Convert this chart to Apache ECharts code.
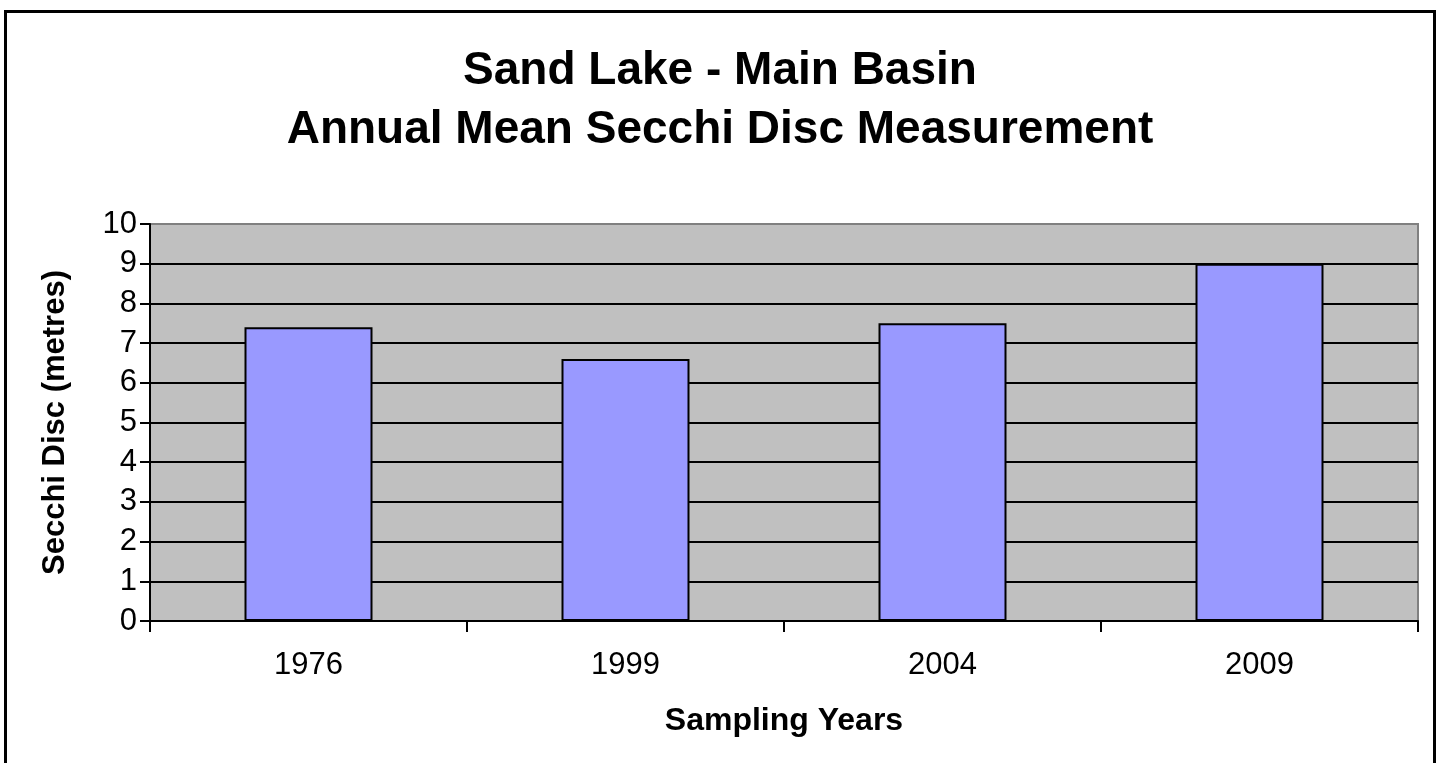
<!DOCTYPE html>
<html>
<head>
<meta charset="utf-8">
<title>Sand Lake - Main Basin</title>
<script src="https://cdn.jsdelivr.net/npm/echarts@6/dist/echarts.min.js"></script>
<style>
    html, body { margin: 0; padding: 0; background: #fff; overflow: hidden; }
    #chart { position: absolute; left: 0; top: 0; width: 1440px; height: 763px; }
    .frame { position: absolute; left: 4px; top: 10px; width: 1432px; height: 800px; border: 3px solid #000; box-sizing: border-box; pointer-events: none; }
</style>
</head>
<body>
<div id="chart"></div>
<div class="frame"></div>
<script>
    // sampling years and annual mean secchi depth (m)
    var years = ['1976', '1999', '2004', '2009'];
    var secchi = [7.4, 6.6, 7.5, 9.0];
    var yTicks = [0, 1, 2, 3, 4, 5, 6, 7, 8, 9, 10];

    var font = "'Liberation Sans', Arial, sans-serif";

    // gridlines are black, the top one is the grey plot border
    var gridColors = yTicks.map(function (v, i) {
        return i === yTicks.length - 1 ? '#808080' : '#000';
    });

    var myChart = echarts.init(document.getElementById('chart'));
    myChart.setOption({
        animation: false,
        title: {
            text: 'Sand Lake - Main Basin\nAnnual Mean Secchi Disc Measurement',
            left: 'center',
            top: 37,
            textStyle: {
                color: '#000',
                fontFamily: font,
                fontWeight: 'bold',
                fontSize: 46,
                lineHeight: 59
            }
        },
        grid: {
            left: 150,
            right: 22,
            top: 224,
            bottom: 142,
            show: true,
            backgroundColor: '#c0c0c0',
            borderColor: '#808080',
            borderWidth: 2
        },
        xAxis: {
            type: 'category',
            data: years,
            boundaryGap: true,
            name: 'Sampling Years',
            nameLocation: 'middle',
            nameGap: 84,
            nameTextStyle: { color: '#000', fontFamily: font, fontWeight: 'bold', fontSize: 32 },
            axisLine: { lineStyle: { color: '#000', width: 2 } },
            axisTick: { show: true, length: 11, lineStyle: { color: '#000', width: 2 } },
            axisLabel: { color: '#000', fontFamily: font, fontSize: 31, margin: 29 },
            splitLine: { show: false }
        },
        yAxis: {
            type: 'value',
            min: yTicks[0],
            max: yTicks[yTicks.length - 1],
            interval: 1,
            name: 'Secchi Disc (metres)',
            nameLocation: 'middle',
            nameGap: 79,
            nameTextStyle: { color: '#000', fontFamily: font, fontWeight: 'bold', fontSize: 31 },
            axisLine: { show: true, lineStyle: { color: '#000', width: 2 } },
            axisTick: { show: true, length: 10, lineStyle: { color: '#000', width: 2 } },
            axisLabel: { color: '#000', fontFamily: font, fontSize: 31, margin: 13 },
            splitLine: { show: true, lineStyle: { color: gridColors, width: 2 } }
        },
        series: [
            {
                name: 'Secchi Disc',
                type: 'bar',
                data: secchi,
                barWidth: 128,
                itemStyle: {
                    color: '#9999ff',
                    borderColor: '#000',
                    borderWidth: 2
                }
            }
        ]
    });
</script>
</body>
</html>
